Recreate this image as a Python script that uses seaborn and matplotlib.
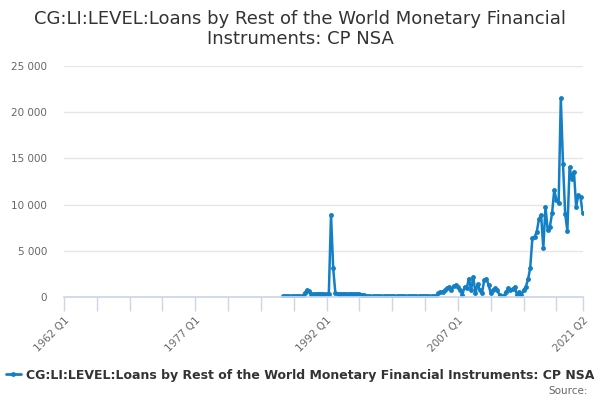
import pandas as pd
import seaborn as sns
import matplotlib
matplotlib.use('Agg')
import matplotlib.pyplot as plt
from matplotlib.lines import Line2D
from matplotlib.ticker import FuncFormatter

# --- data ---
SERIES_NAME = 'CG:LI:LEVEL:Loans by Rest of the World Monetary Financial Instruments: CP NSA'
TITLE = 'CG:LI:LEVEL:Loans by Rest of the World Monetary Financial\nInstruments: CP NSA'

# full quarterly category axis, 1962 Q1 .. 2021 Q2
quarters = [f'{p.year} Q{p.quarter}' for p in pd.period_range('1962Q1', '2021Q2', freq='Q')]
first_obs = '1987 Q1'

values = [
    # 1987 Q1 - 1989 Q2
    80, 80, 70, 80, 90, 80, 70, 80, 90, 100,
    # bump
    450, 750, 650, 350,
    330, 320, 330, 340, 330, 320, 330, 340,
    # spike 1992
    8900, 3100, 400,
    360, 350, 350, 340, 340, 330, 330, 320, 310,
    300, 280, 250, 200, 150, 100,
    # long flat stretch
    70, 60, 60, 70, 60, 60, 70, 60, 60, 70,
    60, 60, 70, 60, 60, 70, 60, 60, 70, 60,
    60, 70, 60, 60, 70, 60, 60, 70, 60, 60, 70,
    # 2004 Q4 onwards
    400, 575, 575, 750, 950, 1100, 750, 1200, 1300, 1100,
    750, 200, 1100, 950, 2000, 750, 2200, 400, 1400, 750,
    430, 1840, 2000, 1300, 400, 750, 950, 750, 200, 30,
    150, 575, 940, 750, 900, 1100, 200, 500, 200, 750,
    1100, 1900, 3100,
    6350, 6500, 7050, 8400, 8870, 5270, 9770, 7250, 7600, 9050,
    11580, 10500, 10130, 21500, 14390, 8980, 7170, 14030, 12800, 13560,
    9770, 11040, 10800, 9050,
]

start = quarters.index(first_obs)
df = pd.DataFrame({'pos': range(start, start + len(values)), 'value': values})

# --- plot ---
LINE_COLOR = '#137fc4'
AXIS_COLOR = '#ccd6eb'

sns.set_theme(style='white')
plt.rcParams['font.family'] = ['DejaVu Sans']

fig = plt.figure(figsize=(6, 4), dpi=100)
ax = fig.add_axes([64 / 600, 1 - 297 / 400, (582.7 - 64) / 600, (297 - 66) / 400])

sns.lineplot(data=df, x='pos', y='value', ax=ax, color=LINE_COLOR, linewidth=1.8,
             marker='o', markersize=3.5, markeredgewidth=0, legend=False)

ax.set_xlim(0, len(quarters) - 1)
ax.set_ylim(0, 25000)
ax.set_yticks(range(0, 25001, 5000))
ax.yaxis.set_major_formatter(FuncFormatter(lambda v, _: f'{v:,.0f}'.replace(',', ' ')))
ax.grid(axis='y', color='#e6e6e6', linewidth=1)
ax.set_axisbelow(True)

last = len(quarters) - 1
minor = list(range(0, last + 1, 15)) + [last]
major = [0, 60, 120, 180, last]
ax.set_xticks(minor, minor=True)
ax.set_xticks(major)
ax.set_xticklabels([quarters[i] for i in major], rotation=45, ha='right',
                   rotation_mode='anchor', fontsize=7.5, color='#666666')
ax.tick_params(axis='x', which='both', length=10, color=AXIS_COLOR, width=1, pad=3, bottom=True)
ax.tick_params(axis='y', length=0, labelsize=7.5, labelcolor='#666666', pad=12)

for side in ['top', 'right', 'left']:
    ax.spines[side].set_visible(False)
ax.spines['bottom'].set_color(AXIS_COLOR)
ax.set_xlabel('')
ax.set_ylabel('')

fig.suptitle(TITLE, fontsize=13, color='#333333', y=0.975, linespacing=1.12)

handle = Line2D([], [], color=LINE_COLOR, linewidth=2, marker='o', markersize=3.5, markeredgewidth=0)
fig.legend([handle], [SERIES_NAME], loc='center', bbox_to_anchor=(0.5, 1 - 375 / 400),
           frameon=False, handlelength=1.2, handletextpad=0.4,
           prop={'weight': 'bold', 'size': 9}, labelcolor='#333333')
fig.text(0.98, 1 - 391 / 400, 'Source:', ha='right', va='center', fontsize=7.5, color='#666666')

plt.savefig('out.png', dpi=100)
